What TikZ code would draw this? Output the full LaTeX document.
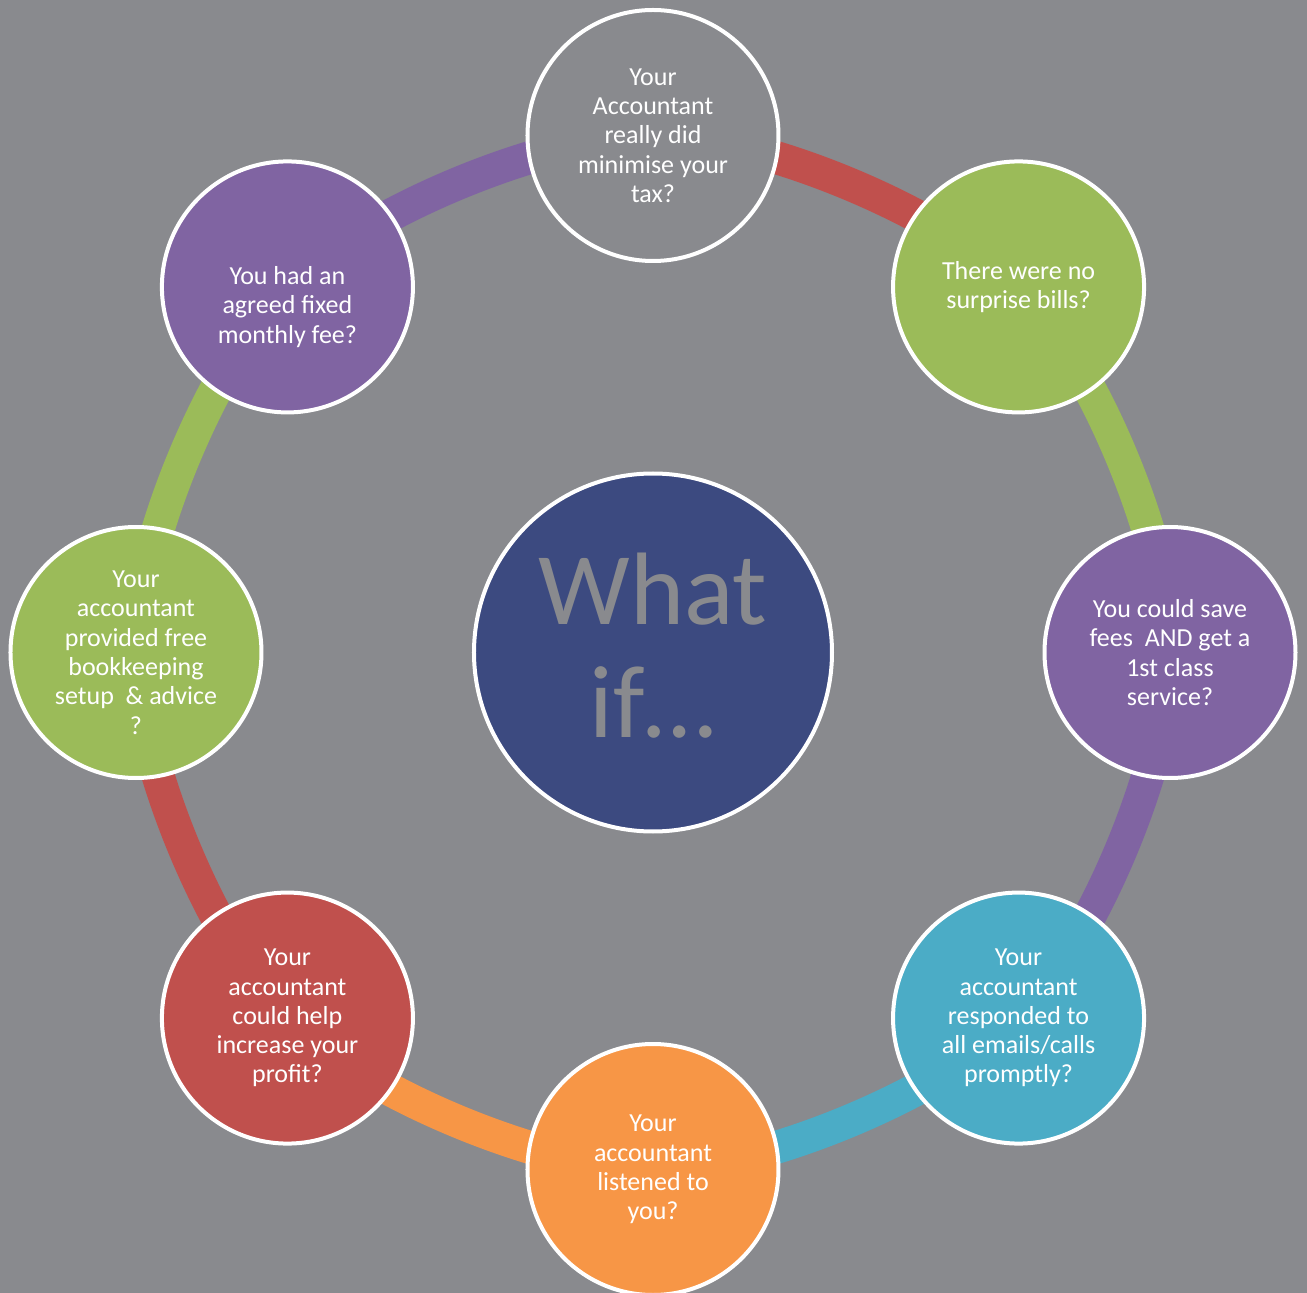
\documentclass[tikz,border=0pt]{standalone}
\usepackage{fontspec}
\setmainfont{Carlito}
\definecolor{bgGray}{HTML}{898A8E}
\definecolor{navy}{HTML}{3C4A80}
\definecolor{aPurple}{HTML}{8064A2}
\definecolor{aGreen}{HTML}{9BBB59}
\definecolor{aRed}{HTML}{C0504D}
\definecolor{aBlue}{HTML}{4BACC6}
\definecolor{aOrange}{HTML}{F79646}
\pgfdeclarelayer{back}
\pgfdeclarelayer{ring}
\pgfsetlayers{back,ring,main}

\begin{document}
\begin{tikzpicture}[x=1pt,y=1pt,
  qtext/.style={align=center,text=white,inner sep=0pt,font=\fontsize{26}{29.3}\selectfont},
  bubble/.style={circle,draw=white,line width=4pt,minimum size=251pt,inner sep=0pt,qtext},
  band/.style={line width=33pt,bend left=22.5,looseness=0.683}]
  \useasboundingbox (-653,-640.5) rectangle (654,652.5);
  \begin{pgfonlayer}{back}
    \fill[bgGray] (-653,-640.5) rectangle (654,652.5);
  \end{pgfonlayer}
  % centre
  \node[circle,draw=white,line width=4pt,fill=navy,minimum size=358pt,
    label={[align=center,text=bgGray,yshift=7pt,font=\fontsize{103}{113}\selectfont]center:What\\if\ldots}] (whatif) at (0,0) {};
  % ring of questions
  \node[bubble,fill=bgGray] (tax) at (90:517) {Your\\Accountant\\really did\\minimise your\\tax?};
  \node[bubble,fill=aGreen] (bills) at (45:517) {There were no\\surprise bills?};
  \node[bubble,fill=aPurple] (fees) at (0:517) {You could save\\fees\ \ AND get a\\1st class\\service?};
  \node[bubble,fill=aBlue] (calls) at (-45:517) {Your\\accountant\\responded to\\all emails/calls\\promptly?};
  \node[bubble,fill=aOrange] (listen) at (-90:517) {Your\\accountant\\listened to\\you?};
  \node[bubble,fill=aRed] (profit) at (-135:517) {Your\\accountant\\could help\\increase your\\profit?};
  \node[bubble,fill=aGreen] (books) at (180:517) {Your\\accountant\\provided free\\bookkeeping\\setup\ \ \& advice\\?};
  \node[bubble,fill=aPurple,label={[qtext,yshift=-20pt]center:You had an\\agreed fixed\\monthly fee?}] (monthly) at (135:517) {};
  \begin{pgfonlayer}{ring}
    \draw[band,aRed] (tax.center) to (bills.center);
    \draw[band,aGreen] (bills.center) to (fees.center);
    \draw[band,aPurple] (fees.center) to (calls.center);
    \draw[band,aBlue] (calls.center) to (listen.center);
    \draw[band,aOrange] (listen.center) to (profit.center);
    \draw[band,aRed] (profit.center) to (books.center);
    \draw[band,aGreen] (books.center) to (monthly.center);
    \draw[band,aPurple] (monthly.center) to (tax.center);
  \end{pgfonlayer}
\end{tikzpicture}
\end{document}
